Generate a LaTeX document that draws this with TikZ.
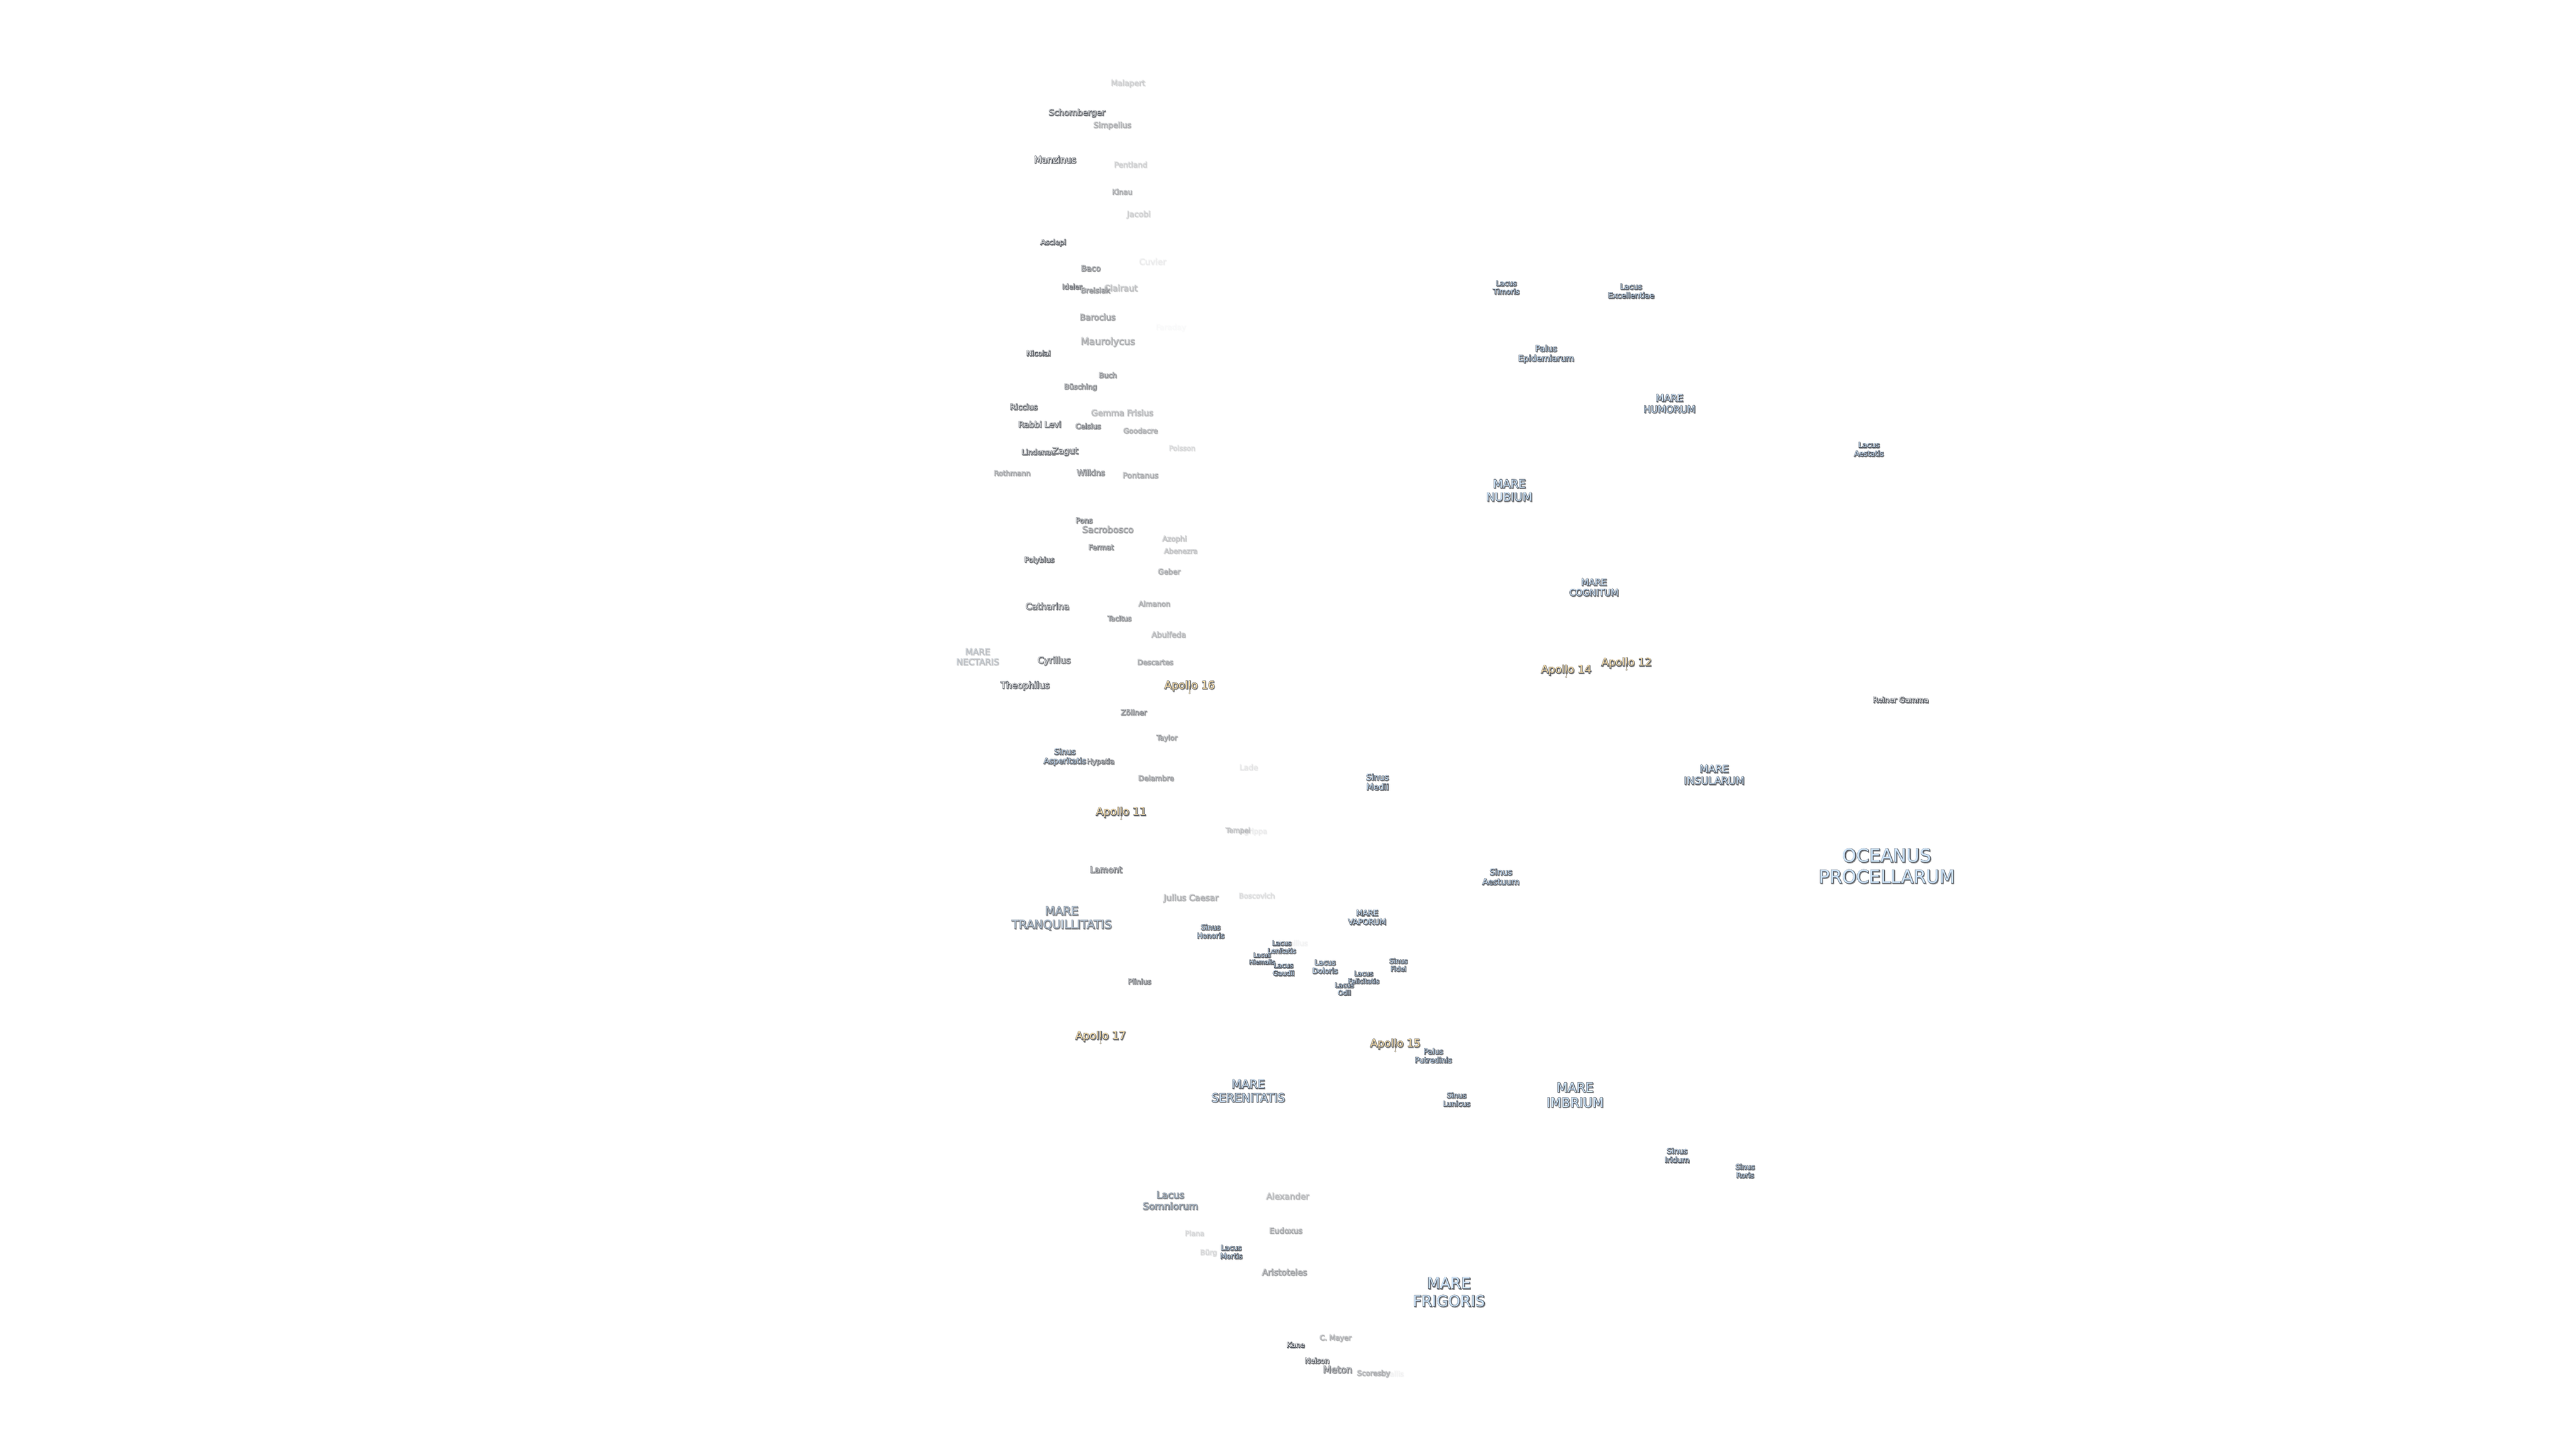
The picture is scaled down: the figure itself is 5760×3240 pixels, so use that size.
\documentclass[tikz,border=0pt]{standalone}
\usepackage{fontspec}
\setmainfont{DejaVu Sans}
\usepackage{tikz}
\usetikzlibrary{positioning}

\definecolor{marefill}{RGB}{205,228,250}
\definecolor{apollofill}{RGB}{252,224,170}
\definecolor{shadowgray}{RGB}{140,140,140}
\definecolor{linkgray}{RGB}{120,105,80}

\newdimen\pxu \pxu=.2845pt
\newcommand{\mfont}[1]{\dimen0=#1\pxu\fontsize{\dimen0}{1.164\dimen0}\selectfont}
\newcommand{\outl}[1]{\leavevmode\rlap{\kern1.4\pxu\raisebox{-1.6\pxu}{\color{shadowgray}\special{pdf:code 2 Tr 0.5 w}#1\special{pdf:code 0 Tr}}}\rlap{\special{pdf:code 1 Tr 0.5 w 0.3 0.32 0.36 RG}#1\special{pdf:code 0 Tr}}#1}
\newcommand{\twol}[2]{\outl{#1}\\\outl{#2}}

\tikzset{
  crater/.style 2 args={inner sep=0pt,align=center,yshift=-1.5\pxu,text=white,font=\mfont{#1},opacity=#2},
  mare/.style 2 args={inner sep=0pt,align=center,yshift=-1.5\pxu,text=marefill,font=\mfont{#1},opacity=#2},
  apollo/.style={inner sep=0pt,align=center,yshift=-1.5\pxu,text=apollofill,font=\mfont{24}},
  apollodot/.style={circle,inner sep=0pt,minimum size=4\pxu,fill=apollofill,draw=shadowgray,line width=.6\pxu},
  apollolink/.style={draw=linkgray,line width=.9\pxu}
}

\begin{document}
\begin{tikzpicture}[x=0.01cm,y=-0.01cm]
  \fill[white] (0,0) rectangle (5760,3240);
  \useasboundingbox (0,0) rectangle (5760,3240);

  % seas
  \node[mare={40.5}{1}]  (Procellarum)  at (4219,1936) {\twol{OCEANUS}{PROCELLARUM}};
  \node[mare={34}{1}]    (Frigoris)     at (3240,2889) {\twol{MARE}{FRIGORIS}};
  \node[mare={28.8}{1}]  (Imbrium)      at (3522,2448) {\twol{MARE}{IMBRIUM}};
  \node[mare={26}{.95}]  (Serenitatis)  at (2791,2439) {\twol{MARE}{SERENITATIS}};
  \node[mare={26}{.65}]  (Tranquil)     at (2374,2053) {\twol{MARE}{TRANQUILLITATIS}};
  \node[mare={25.4}{1}]  (Nubium)       at (3375,1096) {\twol{MARE}{NUBIUM}};
  \node[mare={22.7}{1}]  (Insularum)    at (3833,1732) {\twol{MARE}{INSULARUM}};
  \node[mare={21.4}{1}]  (Humorum)      at (3733,902)  {\twol{MARE}{HUMORUM}};
  \node[mare={20}{1}]    (Cognitum)     at (3564,1313) {\twol{MARE}{COGNITUM}};
  \node[mare={17}{1}]    (Vaporum)      at (3057,2051) {\twol{MARE}{VAPORUM}};
  \node[mare={19.4}{.2}] (Nectaris)     at (2186,1468) {\twol{MARE}{NECTARIS}};

  % lakes, bays, marshes
  \node[mare={21.5}{.6}] (Somniorum)    at (2617,2684) {\twol{Lacus}{Somniorum}};
  \node[mare={16}{1}]    (Mortis)       at (2753,2799) {\twol{Lacus}{Mortis}};
  \node[mare={16}{1}]    (Timoris)      at (3368,642)  {\twol{Lacus}{Timoris}};
  \node[mare={17}{1}]    (Excellentiae) at (3647,650)  {\twol{Lacus}{Excellentiae}};
  \node[mare={16.5}{1}]  (Aestatis)     at (4179,1004) {\twol{Lacus}{Aestatis}};
  \node[crater={16}{.03}] (Manilius)    at (2891,2108) {\outl{Manilius}};
  \node[mare={14.8}{1}]  (Lenitatis)    at (2866,2117) {\twol{Lacus}{Lenitatis}};
  \node[mare={13.3}{1}]  (Hiemalis)     at (2822,2143) {\twol{Lacus}{Hiemalis}};
  \node[mare={15}{1}]    (Gaudii)       at (2870,2167) {\twol{Lacus}{Gaudii}};
  \node[mare={16.2}{1}]  (Doloris)      at (2963,2161) {\twol{Lacus}{Doloris}};
  \node[mare={14.7}{1}]  (Felicitatis)  at (3049,2185) {\twol{Lacus}{Felicitatis}};
  \node[mare={14.6}{1}]  (Odii)         at (3006,2211) {\twol{Lacus}{Odii}};
  \node[mare={15}{1}]    (Fidei)        at (3127,2157) {\twol{Sinus}{Fidei}};
  \node[mare={16}{1}]    (Honoris)      at (2707,2082) {\twol{Sinus}{Honoris}};
  \node[mare={17.7}{.9}] (Asperitatis)  at (2381,1692) {\twol{Sinus}{Asperitatis}};
  \node[mare={18.7}{1}]  (Medii)        at (3080,1748) {\twol{Sinus}{Medii}};
  \node[mare={18.6}{1}]  (Aestuum)      at (3356,1960) {\twol{Sinus}{Aestuum}};
  \node[mare={16}{1}]    (Lunicus)      at (3257,2458) {\twol{Sinus}{Lunicus}};
  \node[mare={17}{1}]    (Iridum)       at (3750,2583) {\twol{Sinus}{Iridum}};
  \node[mare={16}{1}]    (Roris)        at (3902,2618) {\twol{Sinus}{Roris}};
  \node[mare={16.6}{1}]  (Putredinis)   at (3205,2360) {\twol{Palus}{Putredinis}};
  \node[mare={18.7}{1}]  (Epidemiarum)  at (3457,791)  {\twol{Palus}{Epidemiarum}};

  % craters
  \node[crater={17.3}{.15}] (Malapert)    at (2522,186)  {\outl{Malapert}};
  \node[crater={18.8}{.75}] (Schomberger) at (2408,252)  {\outl{Schomberger}};
  \node[crater={17.4}{.3}]  (Simpelius)   at (2487,280)  {\outl{Simpelius}};
  \node[crater={20}{1}]     (Manzinus)    at (2359,356)  {\outl{Manzinus}};
  \node[crater={17}{.15}]   (Pentland)    at (2528,367)  {\outl{Pentland}};
  \node[crater={16}{.3}]    (Kinau)       at (2509,428)  {\outl{Kinau}};
  \node[crater={17.7}{.15}] (Jacobi)      at (2546,479)  {\outl{Jacobi}};
  \node[crater={16}{.9}]    (Asclepi)     at (2355,542)  {\outl{Asclepi}};
  \node[crater={18.7}{.05}] (Cuvier)      at (2577,584)  {\outl{Cuvier}};
  \node[crater={17.6}{.55}] (Baco)        at (2439,599)  {\outl{Baco}};
  \node[crater={19}{.22}]   (Clairaut)    at (2506,643)  {\outl{Clairaut}};
  \node[crater={15.4}{.7}]  (Ideler)      at (2397,640)  {\outl{Ideler}};
  \node[crater={16.3}{.45}] (Breislak)    at (2449,648)  {\outl{Breislak}};
  \node[crater={18.6}{.4}]  (Barocius)    at (2454,708)  {\outl{Barocius}};
  \node[crater={17}{.01}]   (Faraday)     at (2618,732)  {\outl{Faraday}};
  \node[crater={21.3}{.3}]  (Maurolycus)  at (2477,764)  {\outl{Maurolycus}};
  \node[crater={16}{1}]     (Nicolai)     at (2322,789)  {\outl{Nicolai}};
  \node[crater={16}{.5}]    (Buch)        at (2477,838)  {\outl{Buch}};
  \node[crater={16}{.5}]    (Busching)    at (2416,865)  {\outl{Büsching}};
  \node[crater={17.5}{.9}]  (Riccius)     at (2289,909)  {\outl{Riccius}};
  \node[crater={18.7}{.25}] (GemmaFrisius) at (2509,922) {\outl{Gemma Frisius}};
  \node[crater={18.5}{.75}] (RabbiLevi)   at (2325,948)  {\outl{Rabbi Levi}};
  \node[crater={16}{.6}]    (Celsius)     at (2433,952)  {\outl{Celsius}};
  \node[crater={16}{.3}]    (Goodacre)    at (2550,962)  {\outl{Goodacre}};
  \node[crater={15.7}{.12}] (Poisson)     at (2643,1001) {\outl{Poisson}};
  \node[crater={16.3}{.85}] (Lindenau)    at (2322,1010) {\outl{Lindenau}};
  \node[crater={19.4}{.8}]  (Zagut)       at (2382,1009) {\outl{Zagut}};
  \node[crater={15.9}{.35}] (Rothmann)    at (2263,1057) {\outl{Rothmann}};
  \node[crater={17.7}{.55}] (Wilkins)     at (2439,1056) {\outl{Wilkins}};
  \node[crater={17.3}{.3}]  (Pontanus)    at (2550,1062) {\outl{Pontanus}};
  \node[crater={16}{.7}]    (Pons)        at (2424,1163) {\outl{Pons}};
  \node[crater={20}{.4}]    (Sacrobosco)  at (2477,1183) {\outl{Sacrobosco}};
  \node[crater={16.2}{.2}]  (Azophi)      at (2626,1205) {\outl{Azophi}};
  \node[crater={16}{.6}]    (Fermat)      at (2462,1223) {\outl{Fermat}};
  \node[crater={15.8}{.2}]  (Abenezra)    at (2640,1231) {\outl{Abenezra}};
  \node[crater={16.1}{.9}]  (Polybius)    at (2324,1252) {\outl{Polybius}};
  \node[crater={16.5}{.3}]  (Geber)       at (2614,1277) {\outl{Geber}};
  \node[crater={20}{.75}]   (Catharina)   at (2342,1355) {\outl{Catharina}};
  \node[crater={16}{.3}]    (Almanon)     at (2581,1349) {\outl{Almanon}};
  \node[crater={15.5}{.5}]  (Tacitus)     at (2503,1382) {\outl{Tacitus}};
  \node[crater={17.3}{.25}] (Abulfeda)    at (2613,1418) {\outl{Abulfeda}};
  \node[crater={20}{.7}]    (Cyrillus)    at (2357,1477) {\outl{Cyrillus}};
  \node[crater={16}{.35}]   (Descartes)   at (2583,1480) {\outl{Descartes}};
  \node[crater={20}{.95}]   (Theophilus)  at (2292,1533) {\outl{Theophilus}};
  \node[crater={16.5}{.5}]  (Zollner)     at (2535,1592) {\outl{Zöllner}};
  \node[crater={15.7}{.4}]  (Taylor)      at (2609,1650) {\outl{Taylor}};
  \node[crater={15.8}{.7}]  (Hypatia)     at (2461,1703) {\outl{Hypatia}};
  \node[crater={17}{.07}]   (Lade)        at (2792,1715) {\outl{Lade}};
  \node[crater={16.2}{.4}]  (Delambre)    at (2585,1739) {\outl{Delambre}};
  \node[crater={16}{.05}]   (Agrippa)     at (2802,1859) {\outl{Agrippa}};
  \node[crater={15.4}{.2}]  (Tempel)      at (2768,1857) {\outl{Tempel}};
  \node[crater={19}{.7}]    (Lamont)      at (2473,1944) {\outl{Lamont}};
  \node[crater={16}{.1}]    (Boscovich)   at (2810,2002) {\outl{Boscovich}};
  \node[crater={19}{.3}]    (JuliusCaesar) at (2663,2008) {\outl{Julius Caesar}};
  \node[crater={16}{.6}]    (Plinius)     at (2548,2194) {\outl{Plinius}};
  \node[crater={18.9}{.25}] (Alexander)   at (2879,2674) {\outl{Alexander}};
  \node[crater={15.8}{.12}] (Plana)       at (2671,2757) {\outl{Plana}};
  \node[crater={17.4}{.35}] (Eudoxus)     at (2875,2751) {\outl{Eudoxus}};
  \node[crater={16}{.12}]   (Burg)        at (2702,2801) {\outl{Bürg}};
  \node[crater={18.9}{.4}]  (Aristoteles) at (2872,2844) {\outl{Aristoteles}};
  \node[crater={16}{.3}]    (CMayer)      at (2986,2992) {\outl{C. Mayer}};
  \node[crater={16}{1}]     (Kane)        at (2897,3007) {\outl{Kane}};
  \node[crater={16}{1}]     (Neison)      at (2945,3042) {\outl{Neison}};
  \node[crater={21}{.6}]    (Meton)       at (2991,3062) {\outl{Meton}};
  \node[crater={16}{.03}]   (Challis)     at (3112,3071) {\outl{Challis}};
  \node[crater={16.2}{.3}]  (Scoresby)    at (3071,3071) {\outl{Scoresby}};
  \node[crater={16.6}{1}]   (ReinerGamma) at (4250,1564) {\outl{Reiner Gamma}};

  % landing sites
  \node[apollo] (Apollo16) at (2660,1533) {\outl{Apollo 16}};
  \node[apollo] (Apollo11) at (2507,1816) {\outl{Apollo 11}};
  \node[apollo] (Apollo17) at (2461,2317) {\outl{Apollo 17}};
  \node[apollo] (Apollo15) at (3120,2334) {\outl{Apollo 15}};
  \node[apollo] (Apollo14) at (3502,1498) {\outl{Apollo 14}};
  \node[apollo] (Apollo12) at (3637,1482) {\outl{Apollo 12}};

  \node[apollodot] (Site16) at (2660,1550) {};
  \node[apollodot] (Site11) at (2507,1832) {};
  \node[apollodot] (Site17) at (2461,2333) {};
  \node[apollodot] (Site15) at (3120,2351) {};
  \node[apollodot] (Site14) at (3502,1514) {};
  \node[apollodot] (Site12) at (3637,1498) {};

  \path[apollolink] (Site16) edge (Apollo16.center)
                    (Site11) edge (Apollo11.center)
                    (Site17) edge (Apollo17.center)
                    (Site15) edge (Apollo15.center)
                    (Site14) edge (Apollo14.center)
                    (Site12) edge (Apollo12.center);
\end{tikzpicture}
\end{document}
